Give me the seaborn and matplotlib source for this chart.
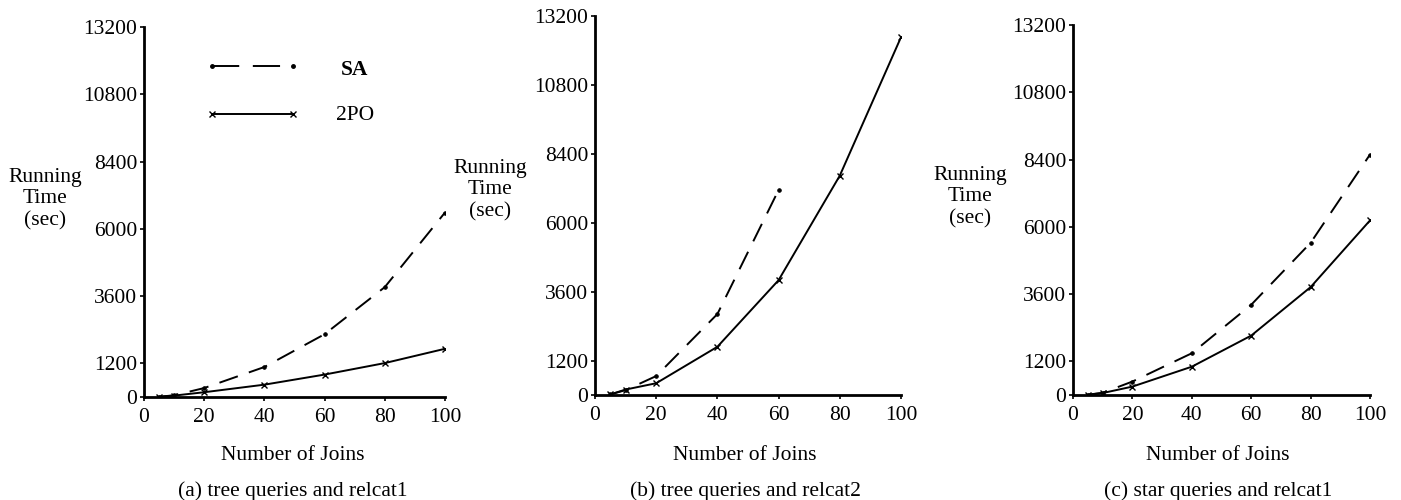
import matplotlib
matplotlib.use("Agg")
import matplotlib.pyplot as plt
import seaborn as sns
import pandas as pd

joins = [5, 10, 20, 40, 60, 80, 100]
joins_b_sa = [5, 10, 20, 40, 60]

sa_a = [10, 60, 320, 1070, 2240, 3920, 6580]
po_a = [10, 50, 170, 440, 800, 1210, 1720]

sa_b = [20, 170, 660, 2820, 7140]
po_b = [20, 190, 410, 1680, 4000, 7640, 12460]

sa_c = [10, 80, 480, 1490, 3220, 5430, 8580]
po_c = [10, 70, 300, 1010, 2120, 3850, 6230]

yticks = [0, 1200, 3600, 6000, 8400, 10800, 13200]
xticks = [0, 20, 40, 60, 80, 100]
captions = ["(a) tree queries and relcat1", "(b) tree queries and relcat2", "(c) star queries and relcat1"]
xlabel = "Number of Joins"
ylabel = "Running\nTime\n(sec)"
series_names = ["SA", "2PO"]

sns.set_style("ticks")
plt.rcParams['font.family'] = ['Liberation Serif', 'DejaVu Serif']
plt.rcParams['text.color'] = 'black'
plt.rcParams['xtick.color'] = 'black'
plt.rcParams['ytick.color'] = 'black'

fig = plt.figure(figsize=(14.01, 5.0), dpi=100)
positions = [
    [0.1028, 0.206, 0.2148, 0.740],
    [0.4247, 0.210, 0.2184, 0.758],
    [0.7659, 0.210, 0.2120, 0.740],
]
data = [
    (joins, sa_a, joins, po_a),
    (joins_b_sa, sa_b, joins, po_b),
    (joins, sa_c, joins, po_c),
]
ylabel_pos = [(45 / 1401, 1 - 199 / 500), (490 / 1401, 1 - 190 / 500), (970 / 1401, 1 - 197 / 500)]
xlabel_x = [293 / 1401, 745 / 1401, 1218 / 1401]

fs = 15.5
dash = (10, 6)
for i, pos in enumerate(positions):
    ax = fig.add_axes(pos)
    xs_sa, ys_sa, xs_po, ys_po = data[i]
    df_sa = pd.DataFrame({"joins": xs_sa, "time": ys_sa})
    df_po = pd.DataFrame({"joins": xs_po, "time": ys_po})
    sns.lineplot(data=df_sa, x="joins", y="time", color="black",
                 marker=".", markersize=5, markeredgecolor="black", linewidth=1.4,
                 ax=ax).lines[-1].set_dashes(dash)
    sns.lineplot(data=df_po, x="joins", y="time", color="black",
                 marker="x", markersize=4, markeredgewidth=1.0, markeredgecolor="black",
                 linewidth=1.4, ax=ax)
    ax.set_xlim(0, 100)
    ax.set_ylim(0, 13200)
    ax.set_xticks(xticks)
    ax.set_yticks(yticks)
    ax.set_xlabel("")
    ax.set_ylabel("")
    ax.tick_params(labelsize=fs, length=3, width=1.2, color="black", labelcolor="black")
    ax.tick_params(axis="x", pad=5)
    ax.tick_params(axis="y", pad=2)
    for s in ["top", "right"]:
        ax.spines[s].set_visible(False)
    for s in ["left", "bottom"]:
        ax.spines[s].set_linewidth(2.0)
        ax.spines[s].set_color("black")
    ax.set_facecolor("none")
    fig.text(ylabel_pos[i][0], ylabel_pos[i][1], ylabel, ha="center", va="center",
             fontsize=fs, linespacing=1.2)
    fig.text(xlabel_x[i], 1 - 455 / 500, xlabel, ha="center", va="center", fontsize=fs)
    fig.text(xlabel_x[i], 1 - 491 / 500, captions[i], ha="center", va="center", fontsize=fs)
    if i == 0:
        ax.plot([22.5, 49.5], [11800, 11800], color="black", lw=1.4, dashes=(14, 7), marker=".", markersize=5)
        ax.plot([22.5, 49.5], [10100, 10100], color="black", lw=1.4, marker="x", markersize=4)
        ax.text(70, 11650, series_names[0], fontsize=fs, fontweight="bold", ha="center", va="center")
        ax.text(70, 10050, series_names[1], fontsize=fs, ha="center", va="center")

fig.savefig("out.png", dpi=100, facecolor="white")
